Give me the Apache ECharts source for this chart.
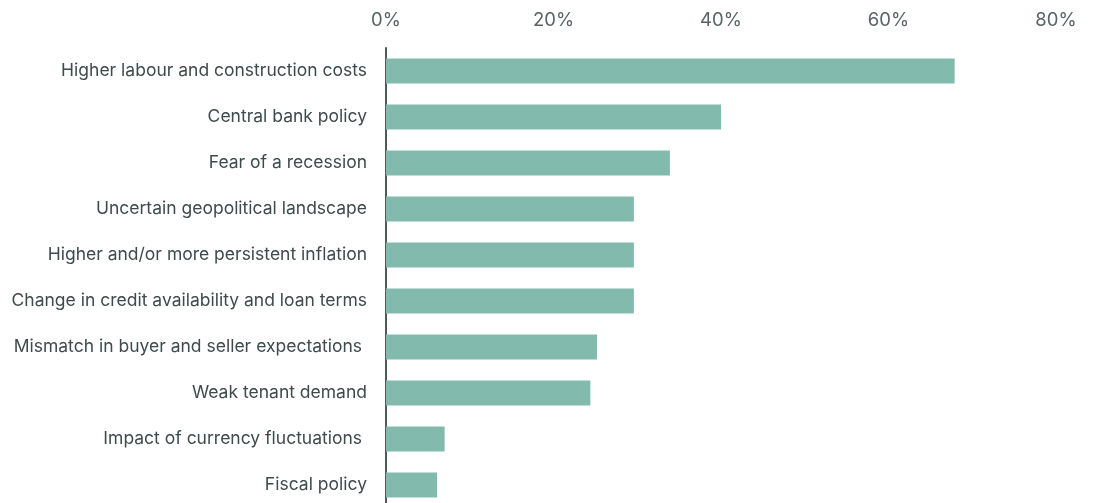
<!DOCTYPE html>
<html><head><meta charset="utf-8">
<script src="https://cdn.jsdelivr.net/npm/echarts@6/dist/echarts.min.js"></script>
<style>html,body{margin:0;padding:0;background:#fff;overflow:hidden}#c{width:1094px;height:508px}</style>
</head><body><div id="c"></div>
<script>
const categories = [
  "Higher labour and construction costs",
  "Central bank policy",
  "Fear of a recession",
  "Uncertain geopolitical landscape",
  "Higher and/or more persistent inflation",
  "Change in credit availability and loan terms",
  "Mismatch in buyer and seller expectations ",
  "Weak tenant demand",
  "Impact of currency fluctuations ",
  "Fiscal policy"
];
const values = [67.9, 40.0, 33.9, 29.6, 29.6, 29.6, 25.2, 24.4, 7.0, 6.1];
const xTicks = [0, 20, 40, 60, 80];

const chart = echarts.init(document.getElementById('c'), null, {renderer: 'canvas'});
chart.setOption({
  animation: false,
  grid: {left: 386, right: 38, top: 48, bottom: 0, containLabel: false},
  xAxis: {
    type: 'value', position: 'top',
    min: xTicks[0], max: xTicks[xTicks.length - 1], interval: 20,
    axisLine: {show: false}, axisTick: {show: false}, splitLine: {show: false},
    axisLabel: {formatter: v => v + '%', color: '#5a6464', fontSize: 18.5, fontFamily: 'Inter', margin: 18}
  },
  yAxis: {
    type: 'category', data: categories, inverse: true,
    axisLine: {show: true, lineStyle: {color: '#4d5a5a', width: 2}},
    axisTick: {show: false},
    axisLabel: {color: '#3f4a4a', fontSize: 17.5, fontFamily: 'Inter', margin: 19}
  },
  series: [{
    type: 'bar', data: values, barWidth: 25,
    itemStyle: {color: '#82bbad'}
  }]
});
</script></body></html>
